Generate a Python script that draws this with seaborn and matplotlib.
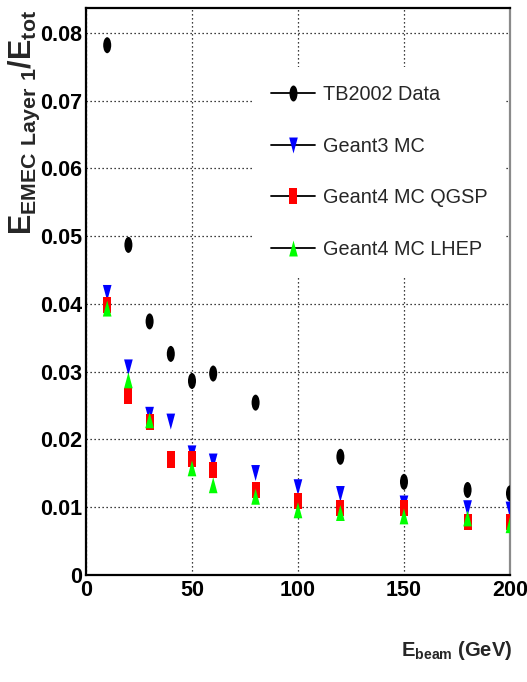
import numpy as np
import pandas as pd
import matplotlib
matplotlib.use("Agg")
import matplotlib.pyplot as plt
import seaborn as sns
from matplotlib.path import Path
from matplotlib.transforms import Affine2D
from matplotlib.lines import Line2D
from matplotlib.ticker import FixedLocator, MultipleLocator

# ---------------- data ----------------
series_names = ["TB2002 Data", "Geant3 MC", "Geant4 MC QGSP", "Geant4 MC LHEP"]

energy_data = [10, 20, 30, 40, 50, 60, 80, 120, 150, 180, 200]
tb2002 = [0.0782, 0.0487, 0.0374, 0.0326, 0.0286, 0.0297, 0.0254, 0.0174, 0.0137, 0.0125, 0.0120]

energy_g3 = [10, 20, 30, 40, 50, 60, 80, 100, 120, 150, 180, 200]
geant3 = [0.0416, 0.0306, 0.0236, 0.0226, 0.0179, 0.0167, 0.0150, 0.0129, 0.0119, 0.0105, 0.0098, 0.0096]

energy_qgsp = [10, 20, 30, 40, 50, 60, 80, 100, 120, 150, 180, 200]
qgsp = [0.0398, 0.0264, 0.0226, 0.0170, 0.0171, 0.0155, 0.0125, 0.0108, 0.0098, 0.0098, 0.0078, 0.0077]

energy_lhep = [10, 20, 30, 50, 60, 80, 100, 120, 150, 180, 200]
lhep = [0.0393, 0.0287, 0.0228, 0.0157, 0.0132, 0.0115, 0.0095, 0.0091, 0.0086, 0.0083, 0.0073]

x_ticks = [0, 50, 100, 150, 200]
x_ticklabels = ["0", "50", "100", "150", "200"]
y_ticks = [0, 0.01, 0.02, 0.03, 0.04, 0.05, 0.06, 0.07, 0.08]
y_ticklabels = ["0", "0.01", "0.02", "0.03", "0.04", "0.05", "0.06", "0.07", "0.08"]

colors = {"TB2002 Data": "#000000", "Geant3 MC": "#0000ff",
          "Geant4 MC QGSP": "#ff0000", "Geant4 MC LHEP": "#00ff00"}

# ---------------- markers (tall shapes) ----------------
oval = Path.unit_circle().transformed(Affine2D().scale(0.25, 0.5))
rect = Path([(-0.25, -0.5), (0.25, -0.5), (0.25, 0.5), (-0.25, 0.5), (-0.25, -0.5)], closed=True)
tri_down = Path([(-0.27, 0.5), (0.27, 0.5), (0.0, -0.5), (-0.27, 0.5)], closed=True)
tri_up = Path([(-0.27, -0.5), (0.27, -0.5), (0.0, 0.5), (-0.27, -0.5)], closed=True)
markers = {"TB2002 Data": oval, "Geant3 MC": tri_down,
           "Geant4 MC QGSP": rect, "Geant4 MC LHEP": tri_up}

frames = []
for name, xs, ys in [("TB2002 Data", energy_data, tb2002),
                     ("Geant3 MC", energy_g3, geant3),
                     ("Geant4 MC QGSP", energy_qgsp, qgsp),
                     ("Geant4 MC LHEP", energy_lhep, lhep)]:
    frames.append(pd.DataFrame({"energy": xs, "value": ys, "series": name}))
df = pd.concat(frames, ignore_index=True)

# ---------------- style ----------------
sns.set_style("white")
fam = ["Liberation Sans", "DejaVu Sans"]
plt.rcParams["font.family"] = fam
plt.rcParams["font.weight"] = "bold"
plt.rcParams["mathtext.fontset"] = "custom"
plt.rcParams["mathtext.bf"] = "Liberation Sans:bold"
plt.rcParams["mathtext.rm"] = "Liberation Sans:bold"
plt.rcParams["mathtext.sf"] = "Liberation Sans:bold"

fig = plt.figure(figsize=(5.27, 6.82), dpi=100)
ax = fig.add_axes([0.1632, 0.1575, 0.8045, 0.8308])

sns.scatterplot(data=df, x="energy", y="value", hue="series", style="series",
                hue_order=series_names, style_order=series_names,
                palette=colors, markers=markers, s=133, linewidth=0,
                legend=False, ax=ax, zorder=3)

ax.set_xlim(0, 200)
ax.set_ylim(0, 0.0837)

ax.xaxis.set_major_locator(FixedLocator(x_ticks))
ax.set_xticklabels(x_ticklabels)
ax.xaxis.set_minor_locator(MultipleLocator(10))
ax.yaxis.set_major_locator(FixedLocator(y_ticks))
ax.set_yticklabels(y_ticklabels)
ax.yaxis.set_minor_locator(MultipleLocator(0.002))

ax.tick_params(axis="both", which="both", direction="in", top=False, right=False,
               colors="black", labelsize=15.5)
ax.tick_params(axis="y", which="major", length=10, width=1.1, pad=3)
ax.tick_params(axis="y", which="minor", length=4.5, width=1.1)
ax.tick_params(axis="x", which="major", length=11, width=1.1, pad=4)
ax.tick_params(axis="x", which="minor", length=5.5, width=1.1)
for lab in ax.get_xticklabels() + ax.get_yticklabels():
    lab.set_fontweight("bold")

ax.grid(True, which="major", color="black", linestyle=(0, (1, 2.2)), linewidth=0.9)
ax.set_axisbelow(True)

for side in ["left", "bottom", "top"]:
    ax.spines[side].set_color("black")
    ax.spines[side].set_linewidth(1.6)
ax.spines["right"].set_color("#8a8a8a")
ax.spines["right"].set_linewidth(1.6)

ax.set_xlabel(r"$\mathbf{E_{beam}}$ (GeV)", fontsize=14.5, fontweight="bold", loc="right")
ax.xaxis.set_label_coords(1.005, -0.113)
ax.set_ylabel(r"$\mathbf{E_{EMEC\ Layer\ 1}/E_{tot}}$", fontsize=22, loc="top")
ax.yaxis.set_label_coords(-0.103, 0.997)

handles = [Line2D([0], [0], color="black", lw=1.3, marker=markers[n], markersize=11.5,
                  markerfacecolor=colors[n], markeredgewidth=0) for n in series_names]
leg = ax.legend(handles, series_names, loc="upper left", bbox_to_anchor=(0.394, 0.896),
                borderaxespad=0, frameon=True, fancybox=False, framealpha=1,
                facecolor="white", edgecolor="none", handlelength=2.24,
                handletextpad=0.4, labelspacing=1.65, borderpad=0.9,
                prop={"family": fam, "weight": "normal", "size": 14.3})
leg.set_zorder(5)

fig.savefig("out.png", dpi=100)
